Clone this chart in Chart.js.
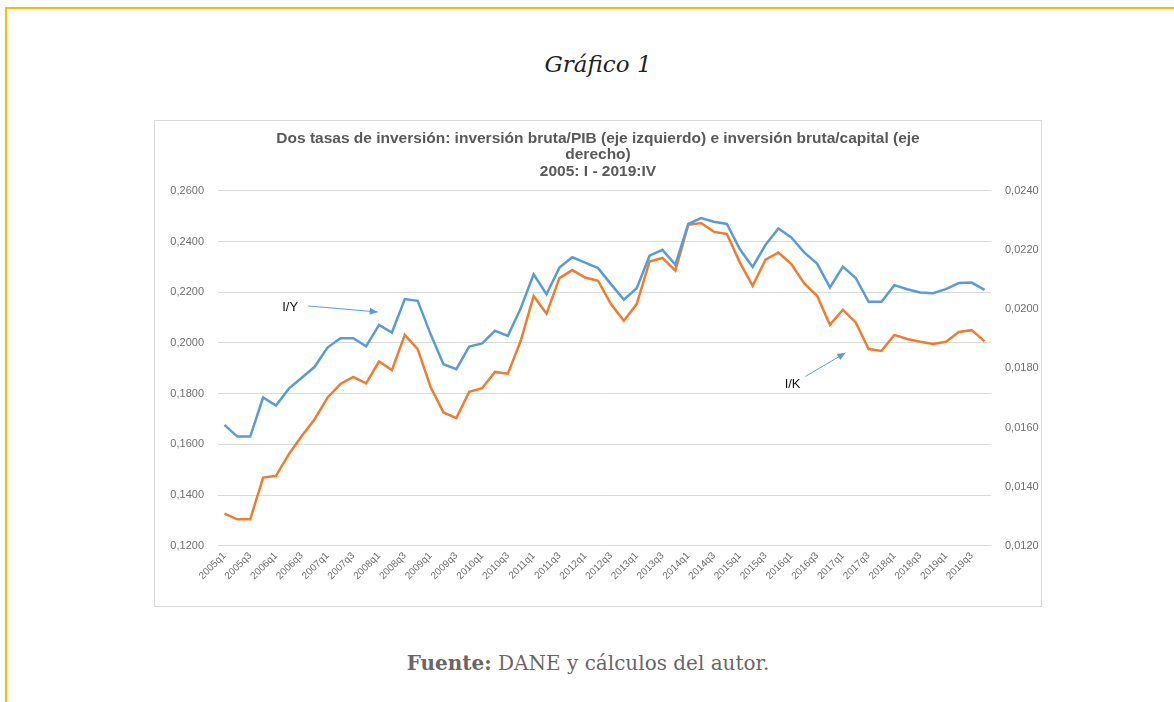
<!DOCTYPE html>
<html>
<head>
<meta charset="utf-8">
<script src="https://cdn.jsdelivr.net/npm/chart.js@4.4.1/dist/chart.umd.min.js"></script>
<style>
  html, body { margin: 0; padding: 0; background: #ffffff; width: 1174px; height: 702px; overflow: hidden; }
  #frameTop { position: absolute; left: 5px; top: 7px; width: 1169px; height: 2px; background: #f5c000; }
  #frameLeft { position: absolute; left: 5px; top: 7px; width: 2px; height: 695px; background: #f5c000; }
  #heading { position: absolute; left: 0; width: 1174px; top: 51px; text-align: center; padding-left: 22px; box-sizing: border-box;
    font-family: "DejaVu Serif", serif; font-style: italic; font-size: 23px; color: #222; }
  #box { position: absolute; left: 154px; top: 120px; width: 886px; height: 485px; border: 1px solid #d9d9d9; }
  #source { position: absolute; left: 0; width: 1174px; top: 651px; text-align: center; padding-left: 2px; box-sizing: border-box;
    font-family: "DejaVu Serif", serif; font-size: 20px; color: #6b6566; }
  #source b { color: #6b6566; }
</style>
</head>
<body>
<div id="frameTop"></div>
<div id="frameLeft"></div>
<div id="heading">Gráfico 1</div>
<div id="box"><canvas id="c" width="886" height="485"></canvas></div>
<div id="source"><b>Fuente:</b> DANE y cálculos del autor.</div>
<script>
// ---- data ----
const years = [2005,2006,2007,2008,2009,2010,2011,2012,2013,2014,2015,2016,2017,2018,2019];
const quarters = [];
years.forEach(y => { for (let q = 1; q <= 4; q++) quarters.push(y + 'q' + q); });

// Inversión bruta / PIB (eje izquierdo)
const iyValues = [
  0.1677,0.1631,0.1631,0.1785,0.1753,0.1820,0.1863,0.1906,0.1982,0.2019,
  0.2019,0.1987,0.2071,0.2041,0.2173,0.2166,0.2035,0.1916,0.1897,0.1986,
  0.1998,0.2048,0.2028,0.2137,0.2271,0.2192,0.2297,0.2338,0.2317,0.2295,
  0.2232,0.2171,0.2216,0.2344,0.2367,0.2308,0.2469,0.2492,0.2478,0.2469,
  0.2370,0.2300,0.2387,0.2451,0.2416,0.2357,0.2313,0.2219,0.2301,0.2256,
  0.2162,0.2162,0.2228,0.2212,0.2199,0.2196,0.2212,0.2236,0.2238,0.2209
];
// Inversión bruta / capital (eje derecho)
const ikValues = [
  0.01309,0.01290,0.01290,0.01431,0.01437,0.01510,0.01571,0.01628,0.01701,0.01747,
  0.01771,0.01749,0.01823,0.01794,0.01913,0.01865,0.01737,0.01651,0.01632,0.01721,
  0.01733,0.01788,0.01782,0.01893,0.02044,0.01985,0.02105,0.02132,0.02107,0.02096,
  0.02017,0.01961,0.02017,0.02161,0.02173,0.02130,0.02285,0.02291,0.02261,0.02254,
  0.02158,0.02079,0.02167,0.02191,0.02152,0.02087,0.02045,0.01947,0.01998,0.01955,
  0.01865,0.01859,0.01913,0.01899,0.01890,0.01882,0.01890,0.01923,0.01929,0.01891
];
const leftTicks = [0.12, 0.26, 0.02];   // min, max, step
const rightTicks = [0.012, 0.024, 0.002];
const titleLines = [
  'Dos tasas de inversión: inversión bruta/PIB (eje izquierdo) e inversión bruta/capital (eje',
  'derecho)',
  '2005: I - 2019:IV'
];
// annotation labels, anchored in data space (category index, left-axis value)
const noteLabels = ['I/Y', 'I/K'];
const noteTextAt = [[5.1, 0.2142], [44.1, 0.1835]];
const noteArrowFrom = [[6.5, 0.2146], [45.1, 0.1868]];
const noteArrowTo = [[11.9, 0.2122], [48.2, 0.1961]];

const fmt = v => v.toFixed(4).replace('.', ',');

const notesPlugin = {
  id: 'notes',
  afterDatasetsDraw(chart) {
    const ctx = chart.ctx, xs = chart.scales.x, ys = chart.scales.y;
    ctx.save();
    noteLabels.forEach((t, i) => {
      const tx = xs.getPixelForValue(noteTextAt[i][0]), ty = ys.getPixelForValue(noteTextAt[i][1]);
      ctx.fillStyle = '#111';
      ctx.font = '13px "Liberation Sans", Arial, sans-serif';
      ctx.textAlign = 'center'; ctx.textBaseline = 'middle';
      ctx.fillText(t, tx, ty);
      const x1 = xs.getPixelForValue(noteArrowFrom[i][0]), y1 = ys.getPixelForValue(noteArrowFrom[i][1]);
      const x2 = xs.getPixelForValue(noteArrowTo[i][0]), y2 = ys.getPixelForValue(noteArrowTo[i][1]);
      ctx.strokeStyle = '#5b9bd5'; ctx.fillStyle = '#5b9bd5'; ctx.lineWidth = 1;
      ctx.beginPath(); ctx.moveTo(x1, y1); ctx.lineTo(x2, y2); ctx.stroke();
      const a = Math.atan2(y2 - y1, x2 - x1), L = 8, W = 3.5;
      ctx.beginPath();
      ctx.moveTo(x2, y2);
      ctx.lineTo(x2 - L * Math.cos(a) + W * Math.sin(a), y2 - L * Math.sin(a) - W * Math.cos(a));
      ctx.lineTo(x2 - L * Math.cos(a) - W * Math.sin(a), y2 - L * Math.sin(a) + W * Math.cos(a));
      ctx.closePath(); ctx.fill();
    });
    ctx.restore();
  }
};

new Chart(document.getElementById('c'), {
  type: 'line',
  data: {
    labels: quarters,
    datasets: [
      { label: 'I/Y', data: iyValues, yAxisID: 'y', borderColor: '#5b9bd5', borderWidth: 2.5,
        pointRadius: 0, tension: 0, fill: false },
      { label: 'I/K', data: ikValues, yAxisID: 'y1', borderColor: '#ed7d31', borderWidth: 2.5,
        pointRadius: 0, tension: 0, fill: false }
    ]
  },
  options: {
    responsive: false,
    animation: false,
    devicePixelRatio: 1,
    layout: { padding: { left: 0, right: 0, top: 0, bottom: 20 } },
    plugins: {
      legend: { display: false },
      tooltip: { enabled: false },
      title: {
        display: true, text: titleLines, color: '#595959',
        font: { family: '"Liberation Sans", Arial, sans-serif', size: 15.5, weight: 'bold', lineHeight: 1.07 },
        padding: { top: 9, bottom: 11 }
      }
    },
    scales: {
      x: {
        offset: true,
        grid: { display: false, drawTicks: false },
        border: { display: false },
        ticks: {
          autoSkip: false, maxRotation: 45, minRotation: 45, padding: 4,
          color: '#6f6f6f', font: { family: '"Liberation Sans", Arial, sans-serif', size: 10 },
          callback: (v, i) => (i % 2 === 0 ? quarters[i] : '')
        }
      },
      y: {
        position: 'left',
        min: leftTicks[0], max: leftTicks[1],
        grid: { color: '#d9d9d9', lineWidth: 1, drawTicks: false },
        border: { display: false },
        ticks: { stepSize: leftTicks[2], padding: 14, color: '#6f6f6f',
          font: { family: '"Liberation Sans", Arial, sans-serif', size: 11 }, callback: v => fmt(v) },
        afterFit: s => { s.width = 63; }
      },
      y1: {
        position: 'right',
        min: rightTicks[0], max: rightTicks[1],
        grid: { display: false, drawTicks: false },
        border: { display: false },
        ticks: { stepSize: rightTicks[2], padding: 14, color: '#6f6f6f',
          font: { family: '"Liberation Sans", Arial, sans-serif', size: 11 }, callback: v => fmt(v) },
        afterFit: s => { s.width = 50; }
      }
    }
  },
  plugins: [notesPlugin]
});
</script>
</body>
</html>
